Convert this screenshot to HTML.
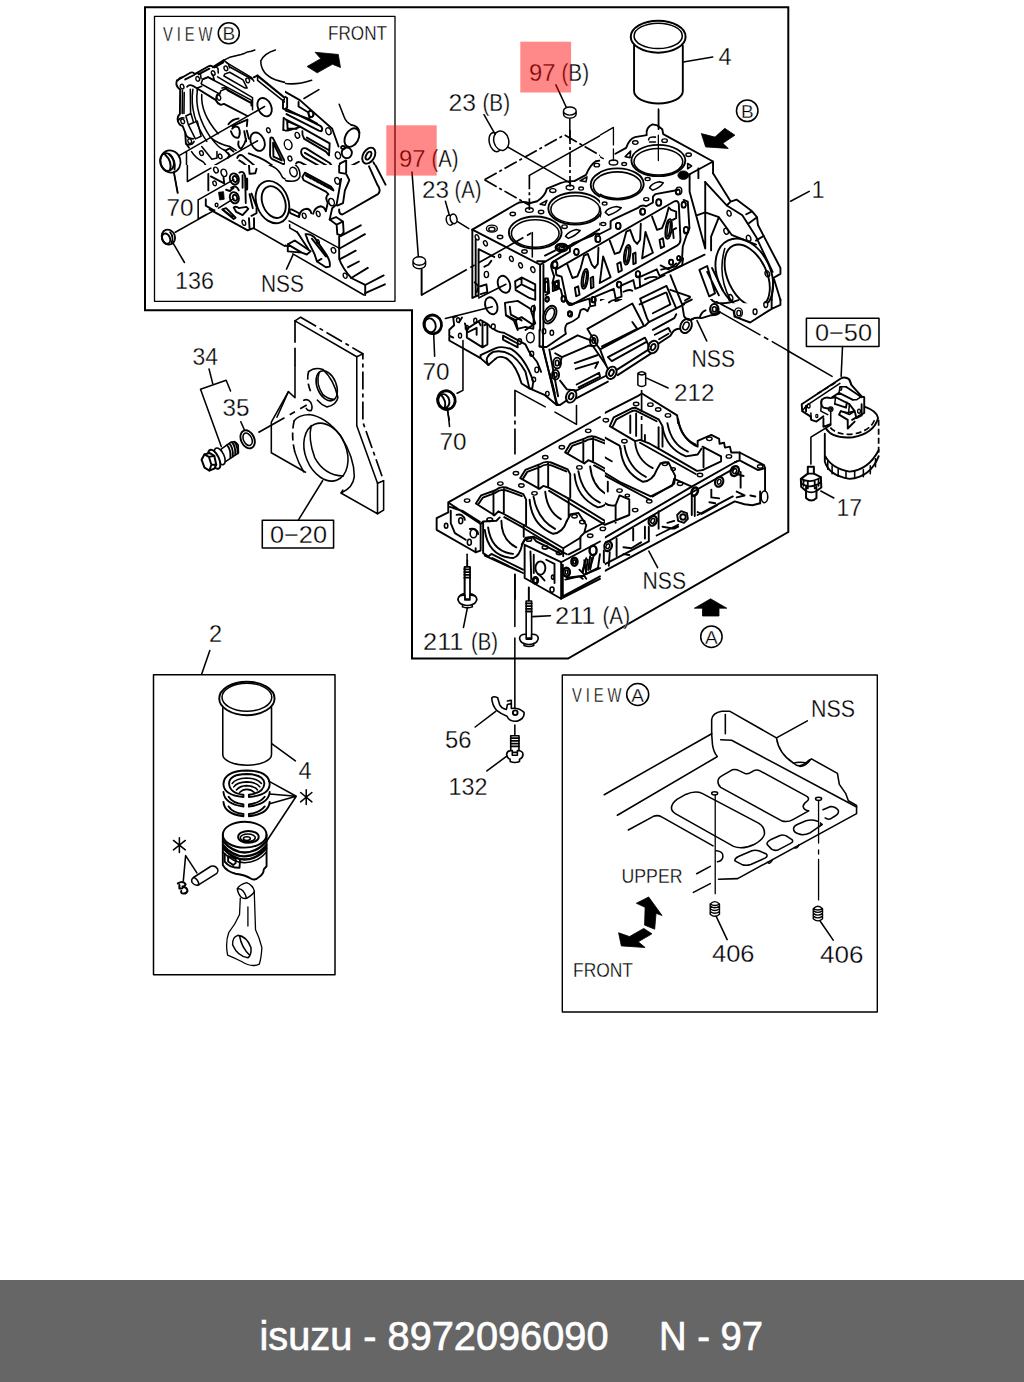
<!DOCTYPE html>
<html><head><meta charset="utf-8"><title>isuzu - 8972096090 N - 97</title>
<style>
html,body{margin:0;padding:0;background:#fff;}
body{width:1024px;height:1382px;overflow:hidden;position:relative;font-family:"Liberation Sans",sans-serif;}
svg{position:absolute;left:0;top:0;display:block;}
path,ellipse,circle,rect,line,polyline,polygon{vector-effect:non-scaling-stroke;}
.l{fill:none;stroke:#000;stroke-width:1.55;stroke-linejoin:round;stroke-linecap:round;}
.h{fill:none;stroke:#000;stroke-width:1.9;stroke-linejoin:round;stroke-linecap:round;}
.t{fill:none;stroke:#000;stroke-width:2;stroke-linejoin:miter;}
.w{fill:#fff;stroke:#000;stroke-width:1.55;stroke-linejoin:round;}
.k{fill:#000;stroke:#000;stroke-width:0.8;stroke-linejoin:round;}
.d{fill:none;stroke:#000;stroke-width:1.7;stroke-dasharray:13 3 3 3;}
text{font-family:"Liberation Sans",sans-serif;fill:#000;stroke:#fff;stroke-width:0.3px;}
.n{font-size:23.5px;}
.s{font-size:17px;letter-spacing:1.5px;}
</style></head><body>
<svg width="1024" height="1382" viewBox="0 0 1024 1382">
<g id="frames">
<rect x="0" y="1280" width="1024" height="102" fill="#666"/>
<text x="259.5" y="1350" font-size="40.5" style="fill:#fff;stroke:#fff;stroke-width:0.7px" textLength="349" lengthAdjust="spacingAndGlyphs">isuzu - 8972096090</text>
<text x="659" y="1350" font-size="40.5" style="fill:#fff;stroke:#fff;stroke-width:0.7px" textLength="104" lengthAdjust="spacingAndGlyphs">N - 97</text>
<path class="t" d="M145,7.2 H788.3 V532 L568,658.5 H412 V310.3 H145 Z"/>
<rect class="l" x="154.5" y="16.3" width="240.5" height="285" style="stroke-width:1.3"/>
<rect class="l" x="153.5" y="674.7" width="181.5" height="300" style="stroke-width:1.5"/>
<rect class="l" x="562.3" y="675" width="315" height="337" style="stroke-width:1.4"/>

</g>
<g id="viewb">
<defs><clipPath id="cQ1"><rect x="-200" y="-200" width="1106" height="1106"/></clipPath><clipPath id="cQ2"><rect x="118" y="-200" width="1200" height="1106"/></clipPath><clipPath id="cQ3"><rect x="-200" y="0" width="1500" height="1300"/></clipPath><clipPath id="cQ4"><rect x="118" y="0" width="1200" height="1300"/></clipPath></defs>
<!-- Q1 -->
<g transform="translate(170 50) scale(0.126953125)" clip-path="url(#cQ1)">
<path class="l" d="M425,80 L470,58 L520,45 L560,35 L590,25 L610,15 L640,10 L668,0"/>
<path class="l" d="M830,0 Q745,25 715,85 Q715,190 830,235 Q930,270 1024,262"/>
<path class="h" d="M55,240 L150,185 Q180,165 195,190 L300,130 Q325,115 338,135 L425,80 M120,232 L190,197 M225,192 L310,147 M350,137 L420,97"/>
<path class="h" d="M55,240 Q40,275 68,302 L80,312 L78,505 Q55,522 62,560 Q72,595 100,600 L120,650 L125,735 L150,770"/>
<path class="l" d="M112,335 L110,500 M160,310 L162,495"/>
<path class="h" d="M135,290 Q150,268 180,282 L362,395 Q375,425 400,432 L425,425 L610,520"/>
<path class="l" d="M245,265 L258,228 L300,212 L350,240 L335,190 M250,270 L392,348 L400,322 L440,305 L650,420 M375,212 L650,375 L650,470"/>
<path class="l" d="M430,190 L470,175 L575,235 L608,300 L592,300 L425,205 Z M445,100 L640,215 L660,245"/>
<path class="h" d="M660,215 L690,200 L915,385 L890,395 L890,460 L1024,540 M700,212 L920,392 L925,450 L1024,510"/>
<path class="l" d="M215,320 Q190,500 320,690 Q380,740 470,760 M250,350 Q240,500 380,660 M180,310 Q150,520 290,720 M330,700 Q380,770 430,790"/>
<path class="l" d="M125,520 L165,500 L185,570 L145,590 Z M145,590 L215,560 L245,680 L200,700 Z"/>
<g class="l" style="stroke-width:1.4">
<ellipse cx="95" cy="288" rx="14" ry="19" transform="rotate(-20 95 288)"/><ellipse cx="218" cy="228" rx="14" ry="19" transform="rotate(-20 218 228)"/>
<ellipse cx="340" cy="182" rx="14" ry="19" transform="rotate(-20 340 182)"/><ellipse cx="440" cy="145" rx="14" ry="19" transform="rotate(-20 440 145)"/>
<ellipse cx="612" cy="240" rx="14" ry="19" transform="rotate(-20 612 240)"/><ellipse cx="385" cy="375" rx="14" ry="21" transform="rotate(-20 385 375)"/>
<ellipse cx="100" cy="562" rx="14" ry="19" transform="rotate(-20 100 562)"/><ellipse cx="155" cy="718" rx="14" ry="19" transform="rotate(-20 155 718)"/>
<ellipse cx="248" cy="812" rx="14" ry="19" transform="rotate(-20 248 812)"/><ellipse cx="395" cy="838" rx="14" ry="19" transform="rotate(-20 395 838)"/>
<ellipse cx="358" cy="948" rx="14" ry="19" transform="rotate(-20 358 948)"/><ellipse cx="420" cy="965" rx="22" ry="28" transform="rotate(-20 420 965)"/>
<ellipse cx="775" cy="632" rx="14" ry="20" transform="rotate(-20 775 632)"/><ellipse cx="930" cy="745" rx="28" ry="38" transform="rotate(-20 930 745)"/>
<ellipse cx="945" cy="855" rx="14" ry="20" transform="rotate(-20 945 855)"/><ellipse cx="968" cy="965" rx="26" ry="34" transform="rotate(-20 968 965)"/>
<ellipse cx="1005" cy="672" rx="16" ry="22" transform="rotate(-20 1005 672)"/>
</g>
<ellipse class="h" cx="745" cy="450" rx="52" ry="76" transform="rotate(-25 745 450)"/>
<ellipse class="h" cx="690" cy="722" rx="52" ry="76" transform="rotate(-25 690 722)"/>
<path class="l" d="M75,830 L745,445 M130,805 L130,1024 M150,1024 L690,715" />
<path class="h" d="M460,585 Q490,545 540,540 M490,600 L610,548 L605,600 M480,640 Q500,700 540,690 Q560,650 540,610 Q510,590 490,620 M585,640 L600,720 M605,635 L622,700 M540,720 Q530,760 560,780 Q590,740 600,700 M440,790 L470,775 L500,800 M455,810 L470,830 L455,850"/>
<path class="h" d="M895,535 L892,630 L925,635 L1024,600 M920,555 L918,612 L1024,575 M895,535 L1024,590"/>
<path class="h" d="M790,700 Q790,685 810,692 L905,880 Q910,900 890,898 L805,860 Q788,850 788,830 Z M812,730 L880,870 L815,840 Z"/>
<path class="l" d="M170,800 Q200,850 260,880 Q280,900 290,925 M250,760 L330,860 L370,850 L370,800 M310,985 L310,1024 M310,985 L400,1024"/>
<path class="h" d="M530,850 Q540,820 570,830 L660,905 Q690,930 680,960 L685,1000 M545,870 Q600,900 625,940 Q640,980 640,1024 M620,815 L700,845 Q780,880 840,940 Q860,990 890,1024"/>
<path class="l" d="M490,1000 Q510,970 540,985 Q560,1000 555,1024 M560,975 Q590,950 610,980 L615,1024"/>
<path class="l" d="M98,315 L96,500 M62,240 Q70,215 100,212 M195,192 Q215,175 240,190 L245,225 M338,137 Q360,125 378,145 L380,180 M425,82 L460,110 L470,140 M465,130 L600,205 L645,228 M262,230 L300,215 L640,395 L640,440 M410,300 Q440,290 455,320 L640,420 M215,320 L215,300 L250,285 M365,400 Q355,350 390,340 M690,200 L690,240 L905,410 M470,760 L520,790 M430,790 L470,830 M62,560 Q75,530 110,535 M120,650 Q130,700 185,700 M125,740 Q170,760 190,720"/>
</g>
<!-- Q2 -->
<g transform="translate(270 50) scale(0.126953125)" clip-path="url(#cQ2)">
<path class="k" d="M292,130 L400,68 L355,18 L538,35 L555,138 L492,112 L372,180 Z"/>
<path class="l" d="M0,228 Q150,300 328,238 M268,382 L385,312 M545,428 L585,530 Q600,570 640,590"/>
<path class="h" d="M0,262 L235,395 L490,620 L540,760 M0,300 L135,378 L135,455 L105,470 L105,400 M105,470 L300,540 L370,580 M225,410 L225,445 L300,490 L310,530 M300,490 Q330,460 345,505 Q340,535 310,530"/>
<path class="h" d="M130,465 L400,600 Q420,620 405,640 L385,635 L130,505"/>
<path class="h" d="M100,535 L100,635 L140,635 L135,560 L240,605 M100,535 L240,605 L140,635 M140,620 L210,620" />
<path class="h" d="M240,605 L470,735 L465,830 L440,800 L270,700 Q250,670 255,640 M290,690 L465,790"/>
<path class="h" d="M245,800 Q250,765 285,775 L470,890 Q495,915 490,960 L470,960 L275,850 Q245,830 245,800 Z M275,810 L480,930"/>
<path class="h" d="M205,895 Q215,875 240,885 L500,1024 M230,930 L260,940 L380,1024 M270,960 L300,1024"/>
<g class="l" style="stroke-width:1.4">
<ellipse cx="322" cy="503" rx="17" ry="24" transform="rotate(-20 322 503)"/><ellipse cx="460" cy="640" rx="20" ry="28" transform="rotate(-20 460 640)"/>
<ellipse cx="215" cy="672" rx="17" ry="24" transform="rotate(-20 215 672)"/><ellipse cx="142" cy="745" rx="30" ry="40" transform="rotate(-20 142 745)"/>
<ellipse cx="157" cy="855" rx="15" ry="20" transform="rotate(-20 157 855)"/><ellipse cx="185" cy="965" rx="26" ry="36" transform="rotate(-20 185 965)"/>
<ellipse cx="535" cy="830" rx="20" ry="28" transform="rotate(-20 535 830)"/>
</g>
<path class="h" d="M0,690 L110,890 Q115,910 90,905 L0,865 M30,740 L90,880 L0,840"/>
<path class="h" d="M0,900 Q60,930 75,980 L100,1024"/>
<!-- plug -->
<ellipse class="h" cx="645" cy="690" rx="52" ry="78" transform="rotate(28 645 690)"/>
<path class="h" d="M640,590 Q700,600 705,650 M590,760 Q560,750 560,770 Q570,790 590,775"/>
<ellipse class="h" cx="605" cy="810" rx="40" ry="42"/>
<path class="h" d="M550,895 L600,870 L600,960 L550,985 Z M615,925 L700,880"/>
<ellipse class="h" cx="778" cy="832" rx="45" ry="68" transform="rotate(30 778 832)"/>
<ellipse class="h" cx="776" cy="832" rx="18" ry="34" transform="rotate(30 776 832)"/>
<path class="h" d="M780,915 L830,1024 M815,885 L890,1024"/>
</g>
<!-- Q3 -->
<g transform="translate(155 165) scale(0.126953125)" clip-path="url(#cQ3)">
<path class="l" d="M150,60 L180,220 M255,0 L255,130 L440,25 M340,275 L340,425 L405,390 M340,275 L620,115 M160,530 L470,355 M500,340 L620,265 M145,620 L232,768"/>
<ellipse class="w" cx="105" cy="568" rx="52" ry="60" transform="rotate(-20 105 568)" style="stroke-width:1.8"/>
<ellipse class="h" cx="88" cy="580" rx="30" ry="42" transform="rotate(-20 88 580)"/>
<path class="h" d="M120,530 Q150,570 130,615"/>
<path class="h" d="M420,70 L420,200 M440,90 L545,145 L540,100 M400,270 L400,320 L460,355 M430,350 L730,515 L780,495 L780,420 M740,420 L745,500 M760,400 L800,380 L800,340"/>
<ellipse class="h" cx="625" cy="110" rx="35" ry="45" transform="rotate(-20 625 110)"/><ellipse class="h" cx="630" cy="110" rx="17" ry="24" transform="rotate(-20 630 110)"/>
<ellipse class="h" cx="625" cy="258" rx="35" ry="45" transform="rotate(-20 625 258)"/><ellipse class="h" cx="630" cy="258" rx="17" ry="24" transform="rotate(-20 630 258)"/>
<g class="l" style="stroke-width:1.4"><ellipse cx="470" cy="145" rx="13" ry="19" transform="rotate(-20 470 145)"/><ellipse cx="480" cy="40" rx="17" ry="24" transform="rotate(-20 480 40)"/><ellipse cx="543" cy="62" rx="22" ry="30" transform="rotate(-20 543 62)"/><ellipse cx="485" cy="315" rx="11" ry="14"/><ellipse cx="700" cy="455" rx="13" ry="21" transform="rotate(-20 700 455)"/></g>
<path class="h" d="M665,60 Q700,40 710,90 L715,300 M690,80 L690,180 M740,0 L745,70 L790,65 L800,30 M745,230 L770,340 M760,225 L800,330"/>
<path class="h" d="M722,110 L722,190" style="stroke-width:3"/>
<path class="h" d="M600,180 Q640,150 660,200 M560,195 L590,205 L620,180 M620,335 Q640,320 660,340 L720,330 L735,345 L690,395 L640,370 Z M530,350 L560,340 L635,415 L620,425 Z M545,360 L610,410"/>
<path class="k" d="M500,215 L540,210 L545,270 L510,275 Z"/>
<ellipse class="h" cx="925" cy="292" rx="125" ry="172" transform="rotate(-22 925 292)"/>
<ellipse class="h" cx="935" cy="292" rx="88" ry="130" transform="rotate(-22 935 292)"/>
<path class="l" d="M780,500 L1024,640 M900,0 Q960,20 990,70 Q1000,100 1024,110"/>
</g>
<!-- Q4 -->
<g transform="translate(270 165) scale(0.126953125)" clip-path="url(#cQ4)">
<path class="h" d="M150,350 L170,350 L230,380 L230,410 L160,380 Z M230,400 Q240,350 290,345 Q320,350 325,380 M340,385 Q350,335 400,325 Q430,330 440,365 Q450,320 455,300"/>
<g class="l" style="stroke-width:1.4"><ellipse cx="270" cy="400" rx="14" ry="22" transform="rotate(-20 270 400)"/><ellipse cx="380" cy="385" rx="14" ry="22" transform="rotate(-20 380 385)"/><ellipse cx="185" cy="55" rx="28" ry="38" transform="rotate(-20 185 55)"/><ellipse cx="530" cy="125" rx="19" ry="27" transform="rotate(-20 530 125)"/><ellipse cx="485" cy="292" rx="21" ry="30" transform="rotate(-20 485 292)"/><ellipse cx="500" cy="672" rx="17" ry="23" transform="rotate(-20 500 672)"/><ellipse cx="592" cy="872" rx="15" ry="21" transform="rotate(-20 592 872)"/><ellipse cx="378" cy="605" rx="10" ry="16" transform="rotate(-20 378 605)"/></g>
<path class="h" d="M455,300 Q430,250 460,230 L440,210 L265,120 L255,95 L275,60 L480,170 L500,200"/>
<path class="h" d="M285,82 L490,192" style="stroke-width:2.6;stroke-dasharray:2 2"/>
<path class="l" d="M60,40 Q90,110 130,125 Q220,140 235,90 Q240,30 200,0 M0,30 Q40,30 60,40"/>
<path class="h" d="M545,0 L545,60 L600,70 L625,120 L590,200 L575,300 L530,320 M600,0 L600,60 M560,110 L525,310 L490,340 L470,430"/>
<path class="h" d="M470,430 L520,410 L575,445 L580,530 L560,555 L530,545 L525,470 Z M525,470 L575,445"/>
<path class="h" d="M780,10 L845,155 M830,0 L910,155 M845,155 Q880,200 850,230 L570,390 Q540,385 545,350"/>
<path class="h" d="M555,560 L715,475 M545,660 L748,545 M555,740 L675,675 M615,805 L700,760 M640,890 L770,810 M750,945 L895,870 M750,1010 L905,940"/>
<path class="h" d="M545,560 L545,740 Q570,810 640,890 L750,945 L750,1024"/>
<path class="l" d="M150,440 L545,655 M155,470 L155,495 L215,530 M0,570 L135,640 M180,700 L740,1024 M180,710 L130,820"/>
<path class="h" d="M140,625 L195,595 L320,680 L290,705 L250,690 L140,680 Z M140,625 L250,690"/>
<path class="h" d="M215,530 L300,660 M280,545 Q320,540 350,570 L440,700 Q480,760 470,800 L440,805 L370,760 L350,700 L300,600 Z M330,580 L440,720 M370,760 L405,740"/>
</g>
<!-- seal 70 top -->
<g transform="translate(150 14) scale(0.25)">
<ellipse class="w" cx="82" cy="590" rx="40" ry="45" transform="rotate(-15 82 590)" style="stroke-width:1.8"/>
<ellipse class="h" cx="68" cy="592" rx="27" ry="36" transform="rotate(-15 68 592)"/>
<path class="h" d="M60,562 Q90,590 80,625 M75,560 Q105,585 98,622"/>
<path class="l" d="M95,632 L110,715"/>
</g>

</g>
<g id="block">
<defs><clipPath id="cB1"><rect x="-300" y="-300" width="1222" height="1400"/></clipPath><clipPath id="cB2"><rect x="51" y="-300" width="1200" height="1340"/></clipPath><clipPath id="cB3"><rect x="-300" y="0" width="1222" height="1400"/></clipPath><clipPath id="cB4"><rect x="51" y="200" width="1200" height="1340"/></clipPath></defs>
<!-- B1 -->
<g transform="translate(420 130) scale(0.1953125)" clip-path="url(#cB1)">
<path class="d" d="M330,255 L740,25 L940,140 M330,255 L560,385 M560,232 L560,410 M768,0 L768,290 M985,0 L985,155" style="stroke-dasharray:14 3 3 3"/>
<path class="d" d="M8,845 L575,525" style="stroke-dasharray:52 4 5 4"/>
<path class="l" d="M560,232 L960,8 M8,700 L8,845 M575,525 L575,650 M420,70 L770,272"/>
<ellipse class="w" cx="385" cy="62" rx="30" ry="50" transform="rotate(-15 385 62)" style="stroke-width:1.5"/>
<ellipse class="w" cx="416" cy="55" rx="38" ry="50" transform="rotate(-15 416 55)" style="stroke-width:1.5"/>
<ellipse class="w" cx="152" cy="462" rx="17" ry="26" transform="rotate(-15 152 462)" style="stroke-width:1.5"/>
<ellipse class="w" cx="172" cy="455" rx="17" ry="25" transform="rotate(-15 172 455)" style="stroke-width:1.5"/>
<path class="l" d="M130,365 L150,435 M190,468 L250,505"/>
<!-- top face -->
<path class="h" d="M268,510 L490,380 Q520,360 560,375 L600,365 Q640,340 650,300 L700,280 Q740,260 790,262 L850,230 Q870,180 900,160 L960,150 L1024,120"/>
<path class="h" d="M268,510 L615,690 L1024,445 M600,672 L640,672"/>
<ellipse class="h" cx="590" cy="525" rx="135" ry="82"/><ellipse class="l" cx="590" cy="530" rx="122" ry="70"/>
<ellipse class="h" cx="795" cy="402" rx="138" ry="82"/><ellipse class="l" cx="795" cy="407" rx="125" ry="70"/>
<ellipse class="h" cx="1012" cy="280" rx="138" ry="82"/><ellipse class="l" cx="1012" cy="285" rx="125" ry="70"/>
<g class="l" style="stroke-width:1.4">
<ellipse cx="368" cy="505" rx="28" ry="18"/><ellipse cx="368" cy="508" rx="16" ry="10"/><ellipse cx="475" cy="430" rx="14" ry="9"/><ellipse cx="560" cy="410" rx="20" ry="12"/><ellipse cx="620" cy="420" rx="14" ry="9"/><ellipse cx="680" cy="310" rx="16" ry="10"/><ellipse cx="768" cy="295" rx="20" ry="12"/><ellipse cx="825" cy="300" rx="12" ry="8"/><ellipse cx="905" cy="180" rx="14" ry="9"/><ellipse cx="985" cy="165" rx="20" ry="12"/><ellipse cx="410" cy="548" rx="14" ry="9"/><ellipse cx="535" cy="622" rx="14" ry="9"/><ellipse cx="740" cy="495" rx="14" ry="9"/><ellipse cx="940" cy="380" rx="12" ry="8"/><ellipse cx="935" cy="482" rx="14" ry="9"/>
<ellipse cx="292" cy="550" rx="9" ry="14" transform="rotate(-25 292 550)"/><ellipse cx="335" cy="580" rx="9" ry="14" transform="rotate(-25 335 580)"/><ellipse cx="408" cy="645" rx="6" ry="9"/><ellipse cx="468" cy="660" rx="9" ry="14" transform="rotate(-25 468 660)"/><ellipse cx="515" cy="693" rx="9" ry="14" transform="rotate(-25 515 693)"/><ellipse cx="578" cy="715" rx="10" ry="15" transform="rotate(-25 578 715)"/><ellipse cx="340" cy="740" rx="11" ry="16"/><ellipse cx="580" cy="915" rx="10" ry="15"/>
<ellipse cx="690" cy="690" rx="15" ry="20"/><ellipse cx="800" cy="625" rx="12" ry="16"/><ellipse cx="910" cy="555" rx="14" ry="20"/><ellipse cx="1010" cy="495" rx="14" ry="20"/><ellipse cx="652" cy="865" rx="9" ry="13"/><ellipse cx="735" cy="865" rx="10" ry="14"/><ellipse cx="765" cy="940" rx="9" ry="14"/><ellipse cx="890" cy="870" rx="10" ry="14"/>
</g>
<path class="l" d="M615,380 L650,360 L640,385 Z M820,260 L855,240 L850,265 Z M745,545 Q760,520 800,510 L820,515 Q800,540 760,555 Z M950,425 Q960,405 1000,392 L1020,398 Q1000,420 965,438 Z"/>
<ellipse class="h" cx="725" cy="602" rx="28" ry="17" style="stroke-width:3.2"/><ellipse class="l" cx="725" cy="604" rx="14" ry="8"/>
<!-- left face -->
<path class="h" d="M268,510 L268,860 L300,845 M285,560 L285,850 M300,610 L300,850 M300,610 L380,650 M330,700 L350,690 L365,670"/>
<ellipse class="h" cx="430" cy="790" rx="30" ry="45" transform="rotate(-20 430 790)"/><path class="l" d="M300,860 L440,790 M130,965 L370,905"/>
<ellipse class="h" cx="365" cy="900" rx="30" ry="45" transform="rotate(-20 365 900)"/>
<path class="h" d="M487,775 L520,755 L590,790 L590,870 L560,860 L490,820 Z M520,790 L590,825 M520,755 L520,790 L490,810"/>
<path class="h" d="M435,885 L500,875 L565,915 L590,990 L540,1024 M435,885 L440,950 L480,975 L500,1024 M460,905 L465,945 L520,975"/>
<path class="h" d="M280,780 L300,800 L290,830 M310,800 L340,790 L345,830 L310,840 M200,985 L215,960 M230,990 L240,1024 M280,990 Q300,970 310,1000 M330,1000 Q350,985 360,1010"/>
<ellipse class="h" cx="65" cy="995" rx="45" ry="48" transform="rotate(-15 65 995)" style="stroke-width:2.8"/><ellipse class="h" cx="52" cy="1000" rx="28" ry="36" transform="rotate(-15 52 1000)"/>
<!-- front edge -->
<path class="h" d="M615,690 L615,1024 M632,690 L632,1024"/>
<ellipse class="h" cx="665" cy="945" rx="30" ry="48" transform="rotate(25 665 945)"/><ellipse class="l" cx="665" cy="945" rx="20" ry="36" transform="rotate(25 665 945)"/>
<path class="h" d="M640,760 L640,830 L655,830 L655,760 Z M680,780 L710,770 L705,815 L680,825 Z"/>
</g>
<!-- B2 -->
<g transform="translate(590 100) scale(0.1953125)" clip-path="url(#cB2)">
<circle class="l" cx="805" cy="55" r="55"/>
<path class="k" d="M570,172 L640,190 L690,145 L742,180 L680,222 L708,248 L592,240 Z"/>
<path class="l" d="M350,45 L350,150 M350,180 L350,310 M120,140 L120,230 M120,250 L120,310 M0,210 L120,140 M0,262 L68,300" style="stroke-width:1.3"/>
<ellipse class="h" cx="350" cy="310" rx="138" ry="80"/><ellipse class="l" cx="350" cy="316" rx="125" ry="68"/>
<path class="h" d="M130,275 L185,245 Q200,200 230,190 L290,180 Q285,140 320,125 L345,130 L370,150 L375,175 L630,315 L630,375 M630,315 L510,380"/>
<g class="l" style="stroke-width:1.4">
<ellipse cx="232" cy="218" rx="14" ry="9"/><ellipse cx="382" cy="208" rx="14" ry="9"/><ellipse cx="505" cy="280" rx="14" ry="9"/><ellipse cx="175" cy="328" rx="12" ry="8"/><ellipse cx="120" cy="320" rx="22" ry="13"/><ellipse cx="35" cy="332" rx="14" ry="9"/><ellipse cx="295" cy="405" rx="13" ry="8"/><ellipse cx="288" cy="508" rx="13" ry="8"/><ellipse cx="75" cy="530" rx="12" ry="8"/><ellipse cx="68" cy="635" rx="13" ry="8"/>
<ellipse cx="455" cy="465" rx="15" ry="19"/><ellipse cx="352" cy="525" rx="14" ry="18"/><ellipse cx="268" cy="572" rx="13" ry="17"/><ellipse cx="145" cy="645" rx="13" ry="17"/><ellipse cx="40" cy="715" rx="13" ry="17"/><ellipse cx="480" cy="535" rx="11" ry="15"/><ellipse cx="492" cy="668" rx="13" ry="17"/><ellipse cx="415" cy="830" rx="11" ry="14"/><ellipse cx="455" cy="810" rx="9" ry="12"/><ellipse cx="245" cy="893" rx="12" ry="16"/><ellipse cx="148" cy="945" rx="12" ry="16"/><ellipse cx="10" cy="1010" rx="10" ry="13"/>
<ellipse cx="712" cy="580" rx="10" ry="15" transform="rotate(-20 712 580)"/><ellipse cx="697" cy="672" rx="11" ry="16" transform="rotate(-20 697 672)"/><ellipse cx="812" cy="708" rx="11" ry="16" transform="rotate(-20 812 708)"/><ellipse cx="908" cy="890" rx="11" ry="16" transform="rotate(-20 908 890)"/><ellipse cx="720" cy="1012" rx="11" ry="16" transform="rotate(-20 720 1012)"/>
</g>
<path class="l" d="M180,290 L208,262 L205,295 Z M500,325 L520,338 L500,352 Z M300,205 Q300,185 335,190 M305,215 L335,215"/>
<path class="l" d="M305,450 Q315,425 355,418 L375,424 Q360,448 320,462 Z M78,575 Q90,552 135,545 L160,552 Q140,575 95,590 Z"/>
<ellipse class="k" cx="478" cy="385" rx="28" ry="22"/>
<ellipse class="h" cx="140" cy="430" rx="135" ry="80"/><ellipse class="l" cx="140" cy="436" rx="122" ry="68"/>
<path class="h" d="M0,470 Q50,520 55,580 Q50,620 0,640 M0,485 Q38,530 40,580 Q35,610 0,625"/>
<!-- rear face -->
<path class="h" d="M630,375 L720,520 L750,510 L830,570 L855,600 L860,640 L975,860 L975,890 L940,910 L930,1024 M590,420 L700,540 L780,590 L850,700 L935,880 M720,520 L700,540 M800,585 L830,570 M815,630 L855,600 M850,720 L890,695 M940,910 L975,1024"/>
<ellipse class="h" cx="790" cy="895" rx="135" ry="195" transform="rotate(-25 790 895)"/>
<ellipse class="h" cx="805" cy="900" rx="100" ry="170" transform="rotate(-25 805 900)"/>
<path class="l" d="M690,760 Q650,900 720,1024"/>
<path class="h" d="M555,350 L555,400 M510,380 L510,470 L590,760 M590,420 L590,760 M590,575 L660,600 L620,700 L620,770 M590,575 L550,590 M660,600 L725,690 L850,740"/>
<path class="h" d="M560,870 L600,850 L640,990 L610,1005 Z M600,880 L660,1000 M625,860 L680,975"/>
</g>
<!-- B3 -->
<g transform="translate(420 280) scale(0.1953125)" clip-path="url(#cB3)">
<path class="l" d="M70,275 L75,390 M220,310 L220,565 L190,580 M140,665 L150,717"/>
<ellipse class="w" cx="135" cy="615" rx="45" ry="48" transform="rotate(-15 135 615)" style="stroke-width:2.8"/><ellipse class="h" cx="122" cy="620" rx="28" ry="36" transform="rotate(-15 122 620)"/>
<path class="h" d="M105,585 Q140,620 125,660"/>
<path class="h" d="M150,255 L175,232 L170,192 L188,185 M150,255 L150,310 L310,400 L350,435 L385,405 M150,285 L170,295"/>
<path class="h" d="M350,435 Q325,395 375,368 Q470,345 540,470 L560,555 L575,555 L580,520 Q540,400 470,355 Q420,335 385,350 L310,385 L310,400 M385,405 Q400,385 440,400 Q490,430 520,530 L560,555"/>
<path class="h" d="M240,295 L240,250 L310,205 L345,225 L345,330 L320,345 Z M320,215 L320,345 M240,270 L290,245 L290,280"/>
<g class="l" style="stroke-width:1.4"><ellipse cx="195" cy="205" rx="8" ry="12"/><ellipse cx="240" cy="245" rx="8" ry="12"/><ellipse cx="205" cy="285" rx="8" ry="12"/><ellipse cx="283" cy="208" rx="8" ry="12"/><ellipse cx="375" cy="238" rx="10" ry="13"/><ellipse cx="510" cy="315" rx="10" ry="14"/><ellipse cx="572" cy="378" rx="10" ry="13"/><ellipse cx="598" cy="460" rx="10" ry="14"/><ellipse cx="583" cy="510" rx="9" ry="12"/><ellipse cx="652" cy="582" rx="9" ry="12"/><ellipse cx="565" cy="295" rx="20" ry="26"/>
<ellipse cx="650" cy="100" rx="9" ry="12"/><ellipse cx="735" cy="98" rx="10" ry="14"/><ellipse cx="770" cy="175" rx="10" ry="14"/><ellipse cx="635" cy="262" rx="9" ry="13"/><ellipse cx="675" cy="270" rx="9" ry="13"/><ellipse cx="890" cy="100" rx="10" ry="14"/>
</g>
<path class="h" d="M425,285 L500,325 L500,345 L425,305 Z M375,250 Q400,270 430,270 L540,330 L560,370 L600,420 L620,470 M560,555 L640,590 L700,640"/>
<path class="h" d="M440,180 L490,205 L500,250 L540,240 L580,250 L585,130 M490,205 L520,190 L580,230"/>
<path class="h" d="M612,256 L612,340 L630,345 M630,256 L630,345 L700,640 L710,640 M665,480 L690,580"/>
</g>
<!-- B4 -->
<g transform="translate(590 260) scale(0.1953125)" clip-path="url(#cB4)">
<path class="h" d="M0,195 L230,95 M0,230 L120,175 L130,210 L160,200 L150,150 L230,120 L245,150 L340,100 L350,60"/>
<path class="h" d="M620,200 Q650,240 760,205 M740,290 L735,260 L650,215 M975,200 L975,230 L930,250 L820,320 L740,290 M930,200 L930,250"/>
<g class="l" style="stroke-width:1.4"><ellipse cx="720" cy="195" rx="10" ry="14"/><ellipse cx="900" cy="228" rx="10" ry="15"/><ellipse cx="845" cy="265" rx="10" ry="14"/><ellipse cx="760" cy="270" rx="20" ry="25"/><ellipse cx="762" cy="272" rx="10" ry="14"/><ellipse cx="635" cy="250" rx="18" ry="24"/></g>
<path class="l" d="M548,310 L598,415 M290,605 L400,655"/>
<path class="d" d="M650,258 L1024,470" style="stroke-dasharray:50 4 5 4;stroke-width:1.5"/>
<path class="w" d="M245,580 Q265,565 285,580 L285,640 Q265,655 245,640 Z M245,582 Q265,595 285,582" style="stroke-width:1.5"/>
</g>
<!-- B5 -->
<g transform="translate(520 240) scale(0.1953125)">
<path class="h" d="M115,545 L190,840 L205,845 L240,820 M100,545 L135,548 M150,560 L195,800"/>
<ellipse class="h" cx="190" cy="630" rx="20" ry="28"/><ellipse class="l" cx="190" cy="630" rx="9" ry="14"/>
<ellipse class="h" cx="182" cy="690" rx="18" ry="25"/><ellipse class="l" cx="182" cy="690" rx="8" ry="12"/>
<ellipse class="h" cx="262" cy="800" rx="25" ry="34" transform="rotate(25 262 800)"/><ellipse class="h" cx="262" cy="800" rx="11" ry="17" transform="rotate(25 262 800)"/>
<ellipse class="h" cx="468" cy="680" rx="25" ry="33" transform="rotate(25 468 680)"/><ellipse class="h" cx="468" cy="680" rx="11" ry="17" transform="rotate(25 468 680)"/>
<ellipse class="h" cx="682" cy="548" rx="25" ry="33" transform="rotate(25 682 548)"/><ellipse class="h" cx="682" cy="548" rx="11" ry="17" transform="rotate(25 682 548)"/>
<ellipse class="h" cx="850" cy="440" rx="28" ry="38" transform="rotate(25 850 440)"/><ellipse class="l" cx="850" cy="440" rx="14" ry="21" transform="rotate(25 850 440)"/>
<ellipse class="h" cx="378" cy="515" rx="20" ry="28"/><ellipse class="l" cx="378" cy="515" rx="9" ry="14"/>
<path class="h" d="M280,775 L440,695 M290,810 L450,725 M495,665 L660,560 M500,692 L670,582 M710,530 L770,490 Q790,450 820,455 M712,508 L760,480"/>
<path class="h" d="M160,560 L295,488 L365,515 M180,580 L215,600 L355,540 L375,545 M215,600 L200,640 M205,720 L240,765 L285,770 M280,630 L395,590 M285,660 L400,625 L385,655 M290,740 L405,680 L410,700 L300,755 M375,545 L440,640 L450,660"/>
<path class="h" d="M345,455 L575,325 L635,440 L410,560 L395,540 M345,455 L395,540 M420,545 L600,455 L575,420 M410,560 L440,640 M450,600 L640,500 L650,520 L470,620 Z M650,520 L660,545"/>
<path class="h" d="M615,300 L750,235 L800,350 L660,420 L650,400 M615,300 L650,400 M660,420 L640,440 M750,270 L770,330 L680,375"/>
<path class="h" d="M770,180 L830,330 L880,305 M830,330 L840,390 Q860,420 885,405 M845,310 L870,295 M680,460 L790,400 L800,380 M690,485 L760,450 L770,470"/>
<path class="h" d="M920,400 Q925,370 950,360 M880,405 Q900,395 930,400 L980,385 Q1010,385 1024,370"/>
<ellipse class="h" cx="995" cy="355" rx="22" ry="28"/><ellipse class="l" cx="995" cy="355" rx="10" ry="13"/>
<!-- panel lower rail -->
<path class="h" d="M240,310 Q250,330 275,325 L355,300 L360,340 L385,335 L385,290 L480,250 L490,300 L520,290 L515,235 L580,205 L590,250 L615,240 L612,190 L700,150 L715,185 L830,130 L835,95"/>
<path class="h" d="M300,395 L310,360 Q330,345 345,365 L355,345 M295,400 Q270,420 240,430 Q225,450 235,480 L140,545 M455,320 Q480,300 500,310 M530,265 Q560,250 575,260 M640,200 Q670,185 700,190"/>
<path class="h" d="M615,240 L740,180 M760,165 L945,75 M720,130 L760,150 L800,120 M612,330 L745,270 M770,255 L870,290 M800,350 L840,330"/>
</g>
<!-- B6 cover -->
<g transform="translate(545 190) scale(0.166015625)">
<path class="h" d="M65,480 L780,68 Q802,60 806,85 L816,300 Q816,322 795,335 L165,690 Q140,702 132,675 L100,522 L68,512 Z"/>
<path class="h" d="M40,475 Q28,440 60,425 L150,372 L150,335 L168,322 L285,275 Q300,255 330,265 L395,232 L395,188 L415,175 L560,108 Q580,85 610,98 L650,75 L650,40 L665,25 L800,0 M40,475 L55,520 L45,560 L95,600 L105,640"/>
<path class="h" d="M835,60 L860,70 L870,230 L850,280 L830,340 L825,420 L790,460 L700,480"/>
<g class="h" style="stroke-width:1.6"><ellipse cx="60" cy="450" rx="14" ry="18"/><ellipse cx="190" cy="372" rx="14" ry="18"/><ellipse cx="320" cy="295" rx="14" ry="18"/><ellipse cx="440" cy="215" rx="14" ry="18"/><ellipse cx="590" cy="130" rx="14" ry="18"/><ellipse cx="685" cy="75" rx="14" ry="18"/><ellipse cx="835" cy="90" rx="13" ry="17"/><ellipse cx="850" cy="240" rx="14" ry="18"/><ellipse cx="110" cy="655" rx="12" ry="16"/><ellipse cx="290" cy="660" rx="13" ry="17"/><ellipse cx="448" cy="570" rx="13" ry="17"/><ellipse cx="560" cy="505" rx="13" ry="17"/><ellipse cx="760" cy="435" rx="12" ry="15"/><ellipse cx="805" cy="410" rx="9" ry="12"/><ellipse cx="800" cy="12" rx="13" ry="16"/><ellipse cx="150" cy="745" rx="10" ry="15" transform="rotate(25 150 745)"/><ellipse cx="70" cy="570" rx="12" ry="18" transform="rotate(25 70 570)"/><ellipse cx="12" cy="660" rx="9" ry="13"/></g>
<path class="h" d="M135,450 L165,530 L195,520 L215,470 L235,395 L258,385 L282,450 L300,470 L318,445 L322,348 M390,305 L420,385 L450,375 L470,325 L490,250 L513,240 L537,305 L555,325 L573,300 L577,203 M645,160 L675,240 L705,230 L725,180 L745,105 L760,120 L790,130 L790,170 L770,180 M790,230 L770,240 L775,290"/>
<ellipse class="h" cx="240" cy="535" rx="18" ry="60" transform="rotate(8 240 535)"/><ellipse class="l" cx="240" cy="535" rx="8" ry="47" transform="rotate(8 240 535)"/>
<ellipse class="h" cx="495" cy="390" rx="18" ry="60" transform="rotate(8 495 390)"/><ellipse class="l" cx="495" cy="390" rx="8" ry="47" transform="rotate(8 495 390)"/>
<ellipse class="h" cx="745" cy="235" rx="18" ry="60" transform="rotate(8 745 235)"/><ellipse class="l" cx="745" cy="235" rx="8" ry="47" transform="rotate(8 745 235)"/>
<path class="h" d="M180,590 L200,580 L208,630 L188,640 Z M435,445 L455,435 L463,485 L443,495 Z M690,300 L710,290 L718,340 L698,350 Z M275,530 L290,522 L292,585 L277,592 Z M530,385 L545,377 L547,440 L532,447 Z M330,560 L350,400 L395,525 Z M585,412 L605,252 L650,378 Z"/>
<path class="h" d="M0,395 L60,365 M100,345 L150,335 M0,560 L20,545 L25,620 L5,632 M55,560 L80,548 L85,590 L60,603 Z"/>
</g>
<!-- liner + pellets -->
<g transform="translate(500 10) scale(0.25390625)">
<ellipse class="h" cx="623" cy="105" rx="108" ry="63" style="stroke-width:2"/>
<ellipse class="l" cx="623" cy="102" rx="95" ry="50"/>
<path class="h" d="M528,140 L528,320 A96,48 0 0 0 720,320 L720,140"/>
<path class="l" d="M722,205 L838,185 M625,392 L625,470 M220,295 L262,385 M275,425 L275,512"/>
<path class="w" d="M250,398 A25,16 0 0 1 300,398 L300,410 A25,16 0 0 1 250,410 Z M250,398 A25,16 0 0 0 300,398" style="stroke-width:1.4"/>
</g>
<path class="w" d="M413,261 A6.3,4.2 0 0 1 425.6,261 L425.6,264.5 A6.3,4.2 0 0 1 413,264.5 Z M413,261 A6.3,4.2 0 0 0 425.6,261" style="stroke-width:1.4"/>
<path class="l" d="M412,172 L418.3,256 M421.6,269.5 L421.6,295 M484,114.7 L495.2,134.3 M790.6,201.2 L809.2,191.4"/>

</g>
<g id="lower">
<defs><clipPath id="cL1"><rect x="-300" y="-100" width="1196" height="1400"/></clipPath><clipPath id="cL2"><rect x="25" y="-100" width="1300" height="1400"/></clipPath></defs>
<!-- L1 -->
<g transform="translate(430 400) scale(0.1953125)" clip-path="url(#cL1)">
<path class="d" d="M435,-49 L435,300 M435,890 L435,1024" style="stroke-dasharray:26 4 4 4"/>
<path class="l" d="M435,-49 L590,35 M640,62 L750,125 L750,28 M90,45 L100,135 M505,960 L505,1024"/>
<g class="l" style="stroke-width:1.4">
<ellipse cx="190" cy="515" rx="14" ry="9"/><ellipse cx="360" cy="428" rx="14" ry="9"/><ellipse cx="440" cy="375" rx="14" ry="9"/><ellipse cx="468" cy="438" rx="14" ry="9"/><ellipse cx="535" cy="478" rx="14" ry="9"/><ellipse cx="590" cy="293" rx="14" ry="9"/><ellipse cx="675" cy="242" rx="14" ry="9"/><ellipse cx="765" cy="345" rx="14" ry="9"/><ellipse cx="810" cy="158" rx="14" ry="9"/><ellipse cx="900" cy="103" rx="14" ry="9"/><ellipse cx="992" cy="213" rx="14" ry="9"/><ellipse cx="970" cy="462" rx="14" ry="9"/><ellipse cx="1010" cy="490" rx="14" ry="9"/><ellipse cx="740" cy="595" rx="14" ry="9"/><ellipse cx="780" cy="625" rx="14" ry="9"/><ellipse cx="820" cy="695" rx="14" ry="9"/><ellipse cx="885" cy="660" rx="14" ry="9"/>
</g>
<!-- windows -->
<path class="h" d="M235,530 L262,488 L335,462 Q360,440 390,448 L478,482 L492,510 L492,640 M235,530 L330,590 L350,570 L380,585 L480,640 M250,530 L270,500 L335,475 Q360,455 388,462 L470,492 M325,470 L325,590 M378,455 L378,580"/>
<path class="h" d="M462,400 L488,358 L560,330 Q590,310 620,320 L705,355 L718,380 L718,500 M462,400 L560,455 L580,440 L610,450 L710,505 M478,400 L498,368 L562,344 Q590,325 618,334 L698,366 M555,335 L555,455 M605,325 L605,445"/>
<path class="h" d="M692,268 L718,225 L790,198 Q815,180 845,188 L935,225 L948,250 L948,370 M692,268 L790,325 L810,308 L840,320 L940,375 M708,268 L728,235 L792,212 Q815,195 843,202 L928,236 M785,205 L785,320 M835,195 L835,310"/>
<path class="h" d="M920,135 L945,92 L1024,62 M920,135 L1024,190 M935,135 L955,102 L1024,76"/>
<!-- saddles -->
<path class="h" d="M510,510 Q520,640 630,685 Q680,680 700,620 M530,495 Q550,610 640,660 M590,470 Q600,570 670,610"/>
<path class="h" d="M740,380 Q750,500 860,550 Q910,545 930,490 M760,365 Q780,480 870,525 M820,340 Q830,440 900,480"/>
<path class="h" d="M970,250 Q980,340 1024,380"/>
<path class="h" d="M470,740 L490,705 L530,700 L620,745 L700,790 M700,620 L720,585 L760,578 L800,640 L790,680 L770,700 L770,760 L710,790 M930,490 L950,455 L1000,448 L1024,480 M790,680 L1024,560 M480,640 L480,700 M710,505 L710,600 M940,375 L940,460"/>
<path class="h" d="M480,640 L682,759 L770,705 M380,600 L470,650 L670,772 M710,505 L910,627 L1000,572 M610,465 L900,642 M940,375 L1024,420 M840,335 L1024,435 M682,759 L682,800 M910,627 L910,670"/>
<!-- front faces -->
<ellipse class="h" cx="835" cy="770" rx="18" ry="24" style="stroke-width:2.4"/><ellipse class="h" cx="910" cy="750" rx="18" ry="24"/><ellipse class="l" cx="910" cy="750" rx="8" ry="12"/>
<path class="h" d="M790,820 L800,890 L860,860 L870,790 M800,810 L780,880 M820,800 L810,870 M840,790 L820,860 M890,770 L890,830 L930,850 L1024,800 M940,700 L950,810 M700,910 L790,900 L800,915"/>
<!-- bolt 211B top -->
<path class="l" d="M190,790 L190,850"/>
<path class="w" d="M176,855 L204,855 L204,1024 L176,1024 Z" style="stroke-width:1.5"/>
<path class="h" d="M176,865 L204,865 M176,880 L204,880 M176,895 L204,895 M176,910 L204,910"/>
<path class="h" d="M145,1024 Q150,995 176,992 M204,992 Q232,995 238,1024"/>
</g>
<!-- L4 front end -->
<g transform="translate(430 490) scale(0.166015625)">
<path class="h" d="M110,75 L1024,-440 M110,75 L110,135 L40,170 L40,240 L275,375 L305,365 L305,205 L110,75 M120,102 L200,128 L300,192 M40,170 L110,135"/>
<path class="h" d="M125,125 L125,200 L150,260 L215,300 M275,375 L275,350 M160,150 Q200,140 210,180 M240,235 Q280,225 290,265"/>
<g class="h" style="stroke-width:1.6"><ellipse cx="185" cy="185" rx="12" ry="18"/><ellipse cx="262" cy="262" rx="20" ry="26"/><ellipse cx="237" cy="315" rx="12" ry="18"/><ellipse cx="97" cy="215" rx="10" ry="15"/>
<ellipse cx="360" cy="178" rx="17" ry="11"/><ellipse cx="595" cy="298" rx="17" ry="11"/><ellipse cx="693" cy="345" rx="17" ry="11"/><ellipse cx="778" cy="378" rx="17" ry="11"/><ellipse cx="740" cy="525" rx="8" ry="12"/><ellipse cx="735" cy="600" rx="12" ry="16"/></g>
<path class="h" d="M305,205 L320,190 L400,185 L420,165 M320,190 L320,380 L350,400 L370,385 L560,480 M330,395 L560,500 M375,410 L540,490"/>
<path class="h" d="M330,240 Q350,400 500,410 Q540,400 555,330 M350,225 Q370,370 500,385 M430,185 Q430,300 520,345 M555,330 L570,300 L620,285 L640,310 L790,385"/>
<path class="h" d="M570,330 L570,530 L790,655 M605,370 L610,540 M790,435 L790,655 M570,330 L790,435 M625,390 L625,500 M700,420 L750,445 L750,560"/>
<ellipse class="h" cx="665" cy="470" rx="30" ry="40"/><path class="h" d="M650,505 Q670,520 690,545"/>
<ellipse class="h" cx="635" cy="545" rx="14" ry="18" style="stroke-width:2.8"/>
<path class="h" d="M790,435 L1024,310 M800,450 L800,640 L1024,520 M790,655 L1024,535"/>
<ellipse class="h" cx="822" cy="495" rx="20" ry="26" style="stroke-width:2.6"/><ellipse class="l" cx="822" cy="495" rx="8" ry="12"/>
<ellipse class="h" cx="870" cy="432" rx="18" ry="24" style="stroke-width:2.6"/><ellipse class="l" cx="870" cy="432" rx="8" ry="11"/>
<path class="h" d="M900,480 L930,510 L1024,470 M930,440 L920,500 M950,420 L940,490 M975,410 L965,480 M815,540 L900,520 L920,535"/>
</g>
<!-- L2 -->
<g transform="translate(600 390) scale(0.1953125)" clip-path="url(#cL2)">
<path class="d" d="M213,0 L213,260" style="stroke-dasharray:22 4 4 4"/>
<path class="h" d="M0,130 L195,30 L215,18 L395,130 L400,170 M395,135 Q420,260 500,290 L500,260 L570,230 L610,250 L612,275 L635,270 L640,295 L665,290 L672,320 L715,320 L840,385 L845,400 L845,540"/>
<path class="h" d="M0,770 L470,495 L700,365 M0,800 L470,525 L690,400 M0,940 L690,570 L740,585 L780,590 L820,580 M0,905 L250,775"/>
<path class="h" d="M715,320 L715,360 L690,370 M845,400 L810,410 L715,360 M820,520 L820,580 M700,520 L740,540 L700,550 M770,540 L795,545"/>
<ellipse class="w" cx="842" cy="547" rx="17" ry="30" style="stroke-width:1.6"/>
<path class="h" d="M50,185 L70,140 L150,100 Q175,85 190,95 L300,150 L320,185 L320,290 M50,185 L180,262 L205,255 L255,275 L300,300 M66,185 L84,150 L152,114 Q175,100 188,108 L290,160 M155,130 L155,220 M185,120 L185,235 M230,230 L230,265 M300,190 L300,300"/>
<path class="h" d="M105,300 Q115,420 220,470 Q270,465 290,410 M125,285 Q145,400 235,445 M180,270 Q190,360 270,400 M290,410 L310,375 L350,370 L385,440 L380,480 L270,545"/>
<path class="h" d="M320,190 Q340,300 440,340 L500,330 L520,300 M345,170 Q365,280 450,315 M400,150 Q410,240 490,280"/>
<path class="h" d="M525,290 L620,340 L620,365 L525,410 M530,300 L530,395 M380,455 L470,495"/>
<path class="h" d="M0,560 Q40,600 80,590 L100,540 L150,560 L150,640 L0,700 M80,590 L80,680 M0,410 L100,470 L260,545 L370,490 L380,455 M0,230 L100,285 L105,300 M0,330 L60,365"/>
<path class="h" d="M0,425 L255,562 M300,300 L496,414 L525,410 M205,270 L490,430 M40,470 L40,520"/>
<g class="l" style="stroke-width:1.4"><ellipse cx="30" cy="155" rx="14" ry="9"/><ellipse cx="185" cy="72" rx="14" ry="9"/><ellipse cx="258" cy="75" rx="14" ry="9"/><ellipse cx="298" cy="100" rx="14" ry="9"/><ellipse cx="348" cy="130" rx="14" ry="9"/><ellipse cx="125" cy="262" rx="14" ry="9"/><ellipse cx="332" cy="378" rx="14" ry="9"/><ellipse cx="375" cy="405" rx="11" ry="7"/><ellipse cx="410" cy="480" rx="14" ry="9"/><ellipse cx="512" cy="435" rx="14" ry="9"/><ellipse cx="560" cy="250" rx="14" ry="9"/><ellipse cx="660" cy="340" rx="14" ry="9"/><ellipse cx="820" cy="392" rx="14" ry="9"/><ellipse cx="100" cy="515" rx="14" ry="9"/><ellipse cx="140" cy="540" rx="11" ry="7"/><ellipse cx="252" cy="570" rx="14" ry="9"/><ellipse cx="180" cy="615" rx="14" ry="9"/><ellipse cx="15" cy="710" rx="14" ry="9"/></g>
<ellipse class="h" cx="690" cy="415" rx="20" ry="26" transform="rotate(25 690 415)" style="stroke-width:2.4"/><ellipse class="l" cx="690" cy="415" rx="9" ry="13" transform="rotate(25 690 415)"/>
<ellipse class="h" cx="610" cy="470" rx="20" ry="26" transform="rotate(25 610 470)" style="stroke-width:2.2"/><ellipse class="l" cx="610" cy="470" rx="9" ry="13" transform="rotate(25 610 470)"/>
<ellipse class="h" cx="485" cy="520" rx="15" ry="22" transform="rotate(25 485 520)" style="stroke-width:2.6"/>
<ellipse class="h" cx="270" cy="670" rx="20" ry="26" transform="rotate(25 270 670)" style="stroke-width:2.2"/><ellipse class="l" cx="270" cy="670" rx="9" ry="13" transform="rotate(25 270 670)"/>
<ellipse class="h" cx="40" cy="800" rx="20" ry="26" transform="rotate(25 40 800)" style="stroke-width:2.2"/><ellipse class="l" cx="40" cy="800" rx="9" ry="13" transform="rotate(25 40 800)"/>
<path class="h" d="M395,640 L415,620 L445,630 L450,660 L430,680 L400,670 Z"/><circle class="h" cx="425" cy="650" r="14"/>
<path class="h" d="M485,545 L485,645 M470,540 L470,640 M300,620 L300,710 M320,700 L380,710 L400,700 M345,680 L380,670 M570,510 L570,550 L610,555 M590,580 L560,575 M500,625 L520,635 L600,590 M170,710 L170,770 M230,700 L230,760 M250,700 L250,770 M120,805 L160,810 L210,780 M120,840 L150,845 M85,760 L85,850 M50,830 L45,900 M720,420 L720,500 M700,430 L735,440 M290,745 L400,690 M500,640 L680,545"/>
<path class="l" d="M250,825 L295,910"/>
</g>
<!-- L3 -->
<g transform="translate(400 560) scale(0.1953125)">
<path class="l" d="M345,0 L345,35 M345,245 L325,345 M660,140 L660,210 M680,290 L770,285 M588,75 L588,340 M588,400 L588,790 M490,775 L385,855 M588,845 L588,895 M545,1005 L445,1080"/>
<path class="w" d="M332,35 L358,35 L358,200 L332,200 Z" style="stroke-width:1.6"/>
<path class="h" d="M332,48 L358,48 M332,62 L358,62 M332,76 L358,76 M332,90 L358,90"/>
<path class="w" d="M297,200 Q300,178 332,180 L332,205 L358,205 L358,180 Q390,178 393,200 Q390,222 370,228 L370,240 Q345,250 320,240 L320,228 Q300,222 297,200 Z" style="stroke-width:1.6"/>
<path class="l" d="M320,228 Q345,238 370,228"/>
<path class="w" d="M646,210 L674,210 L674,400 L646,400 Z" style="stroke-width:1.6"/>
<path class="h" d="M646,222 L674,222 M646,236 L674,236 M646,250 L674,250 M646,264 L674,264"/>
<path class="w" d="M612,400 Q615,378 646,380 L646,405 L674,405 L674,380 Q705,378 708,400 Q705,422 685,428 L685,438 Q660,448 635,438 L635,428 Q615,422 612,400 Z" style="stroke-width:1.6"/>
<path class="l" d="M635,428 Q660,438 685,428"/>
<path class="w" d="M470,705 Q480,695 500,705 L510,740 Q520,760 545,765 L550,740 L570,735 L570,760 Q610,755 635,780 Q640,810 600,825 Q560,830 548,800 Q520,790 495,770 Q470,740 470,705 Z" style="stroke-width:1.6"/>
<circle class="h" cx="590" cy="782" r="12"/><path class="l" d="M550,722 L570,718 L570,735"/>
<path class="w" d="M567,900 L609,900 L609,985 L567,985 Z" style="stroke-width:1.6"/>
<path class="h" d="M567,912 L609,912 M567,926 L609,926 M567,940 L609,940 M567,954 L609,954"/>
<path class="w" d="M546,995 Q548,975 575,975 L575,1000 L601,1000 L601,975 Q628,975 630,995 Q628,1015 612,1020 L612,1032 Q588,1042 564,1032 L564,1020 Q548,1015 546,995 Z" style="stroke-width:1.6"/>
</g>
<path class="k" d="M710.6,598.8 L726.8,608.2 L719,608.2 L719,616 L702.5,616 L702.5,608.2 L694.4,608.2 Z"/>
<circle class="l" cx="711.4" cy="636.7" r="10.7"/>

</g>
<g id="leftmid">
<g transform="translate(170 305) scale(0.244140625)">
<path class="l" d="M512,65 L765,212 L765,495 L850,730 L850,855 L700,770 L708,758 M555,685 L415,605 L415,480 L485,355 L512,380 L512,250"/>
<path class="l" d="M512,65 L535,50 M765,212 L790,200 M850,730 L875,720 L875,840 L850,855"/>
<path class="d" d="M535,50 L790,200 L790,480 L875,720" style="stroke-dasharray:18 4 4 4"/>
<path class="d" d="M512,65 L512,250" style="stroke-dasharray:22 5"/>
<path class="l" d="M485,355 L438,460"/>
<!-- holes (fine) -->
</g>
<g transform="translate(260 340) scale(0.13671875)">
<path class="l" d="M250,590 Q280,550 360,545 Q480,560 590,700 Q690,860 690,1000 Q680,1080 600,1115 M255,820 Q280,900 320,965"/>
<path class="d" d="M250,590 Q225,700 255,820" style="stroke-dasharray:8 4"/>
<ellipse class="l" cx="482" cy="820" rx="150" ry="220" transform="rotate(-22 482 820)"/>
<path class="l" d="M375,625 Q350,720 400,860 Q470,990 610,995"/>
<path class="l" d="M355,232 Q400,195 460,215 Q540,290 570,420 Q560,475 490,490 Q450,475 420,440"/>
<path class="d" d="M355,232 Q335,300 380,400" style="stroke-dasharray:8 4"/>
<ellipse class="l" cx="488" cy="335" rx="70" ry="115" transform="rotate(-22 488 335)"/>
<path class="l" d="M432,240 Q405,320 460,400 Q500,435 545,435"/>
<path class="l" d="M320,440 Q350,428 370,455 Q388,490 375,515 Q350,522 338,500"/>
</g>
<g transform="translate(170 305) scale(0.244140625)">
<path class="d" d="M362,522 L560,410" style="stroke-dasharray:30 6 6 6"/>
<!-- washer 35 -->
<ellipse class="h" cx="318" cy="550" rx="27" ry="39" transform="rotate(-25 318 550)"/>
<ellipse class="l" cx="318" cy="550" rx="17" ry="27" transform="rotate(-25 318 550)"/>
<!-- leaders -->
<path class="l" d="M160,262 L175,322 M125,345 L230,308 L248,352 M125,345 L210,580 M290,478 L305,512 M625,720 L525,882"/>
<rect class="l" x="378" y="882" width="292" height="113"/>
</g>
<g transform="translate(185 410) scale(0.09765625)">
<path class="w" d="M370,400 L470,330 Q520,310 545,360 L548,440 L400,540 Z" style="stroke-width:1.5"/>
<path class="h" d="M430,360 Q470,400 465,490 M455,345 Q495,385 490,475 M480,330 Q520,370 515,460 M505,325 Q540,360 540,445"/>
<ellipse class="w" cx="355" cy="475" rx="45" ry="92" transform="rotate(-25 355 475)" style="stroke-width:1.6"/>
<ellipse class="w" cx="300" cy="505" rx="48" ry="105" transform="rotate(-25 300 505)" style="stroke-width:2"/>
<path class="w" d="M170,510 L198,455 L250,440 L300,470 L320,560 L300,600 L250,620 L200,590 Z" style="stroke-width:2"/>
<path class="h" d="M198,455 L245,480 L270,560 L250,620 M245,480 L300,470 M270,560 L320,560"/>
</g>

</g>
<g id="filter">
<g transform="translate(780 300) scale(0.17366)">
<rect class="l" x="152" y="105" width="418" height="163"/>
<path class="l" d="M360,268 L352,440 M235,1100 L310,1140 M292,640 L292,720 L178,790 L178,945"/>
<path class="l" d="M45,292 L300,440"/>
<path class="h" d="M125,600 L350,452 Q375,438 400,458 L412,490 L470,555 L485,560 L485,650 L415,690 M125,600 L128,640 L175,670 L180,690 L210,700 L250,670 M150,610 L150,640"/>
<path class="d" d="M215,540 L330,470" style="stroke-dasharray:5 3"/>
<path class="h" d="M240,575 Q260,555 290,565 L320,560 L400,600 L430,640 L390,650 L350,640 L340,660 L390,690 L390,740 L430,700 M300,560 L340,535 L420,575 M380,500 L470,560 M240,575 Q230,600 250,620 L275,625 M250,680 L250,730 L290,715 M320,600 L380,620 L385,590 M430,640 L440,680 L470,665 L470,600"/>
<g class="l" style="stroke-width:1.3"><ellipse cx="350" cy="510" rx="6" ry="10"/><ellipse cx="165" cy="610" rx="8" ry="12"/><ellipse cx="212" cy="668" rx="6" ry="9"/><ellipse cx="455" cy="640" rx="8" ry="12"/><circle cx="292" cy="628" r="13"/><circle cx="292" cy="628" r="6"/></g>
<path class="h" d="M265,740 Q300,800 420,790 Q540,770 565,680 Q560,640 490,615 M258,770 L258,930 Q280,1010 400,1030 Q520,1020 568,900 M258,895 Q295,970 400,988 Q510,978 568,865"/>
<path class="d" d="M290,735 Q330,780 420,772 Q520,755 545,690 M568,690 L568,900" style="stroke-dasharray:6 3"/>
<path class="l" d="M275,930 L275,975 M300,955 L300,1000 M335,975 L335,1015 M380,985 L380,1025 M430,985 L430,1027 M480,978 L480,1018 M520,955 L520,1000 M550,915 L550,960"/>
<path class="h" d="M240,575 L235,640 L275,660 M320,560 L315,600 M350,640 L400,660 L430,640 M400,600 L395,650 M412,490 L395,455 M340,535 L345,500 L380,500 M470,555 L440,575 L420,575 M180,690 L178,650 M128,640 L150,610 L345,480" style="stroke-width:1.5"/>
<path class="w" d="M160,960 L195,960 L195,1000 L235,1020 L238,1080 L210,1100 L210,1140 Q180,1170 150,1140 L150,1100 L122,1075 L120,1030 L160,1000 Z" style="stroke-width:2"/>
<path class="h" d="M160,1000 L195,1000 M120,1030 Q180,1060 235,1020 M125,1060 Q180,1090 236,1050 M150,1100 Q180,1115 210,1100 M150,1075 L150,1100 M210,1075 L210,1100 M135,1035 L135,1070 M160,1045 L160,1085 M200,1045 L200,1085 M222,1030 L222,1070" style="stroke-width:1.8"/>
</g>

</g>
<g id="box2">
<g transform="translate(140 620) scale(0.25390625)">
<ellipse class="h" cx="421" cy="309" rx="109" ry="66"/>
<ellipse class="l" cx="421" cy="304" rx="98" ry="55"/>
<path class="l" d="M326,342 L326,530 A96,42 0 0 0 518,530 L518,342"/>
<path class="l" d="M520,488 L612,555"/>
<path class="l" d="M275,120 L243,213"/>
</g>
<g transform="translate(170 760) scale(0.15625)">
<!-- rings -->
<path class="h" d="M470,237 Q345,225 342,155 Q345,70 490,67 Q635,70 638,155 Q635,225 505,237 L505,222 Q600,212 604,150 Q600,92 490,90 Q380,92 378,150 Q382,212 470,222 Z"/>
<path class="l" d="M398,150 Q420,118 490,115 Q560,118 585,150 M408,172 Q430,142 490,140 Q555,142 575,172 M425,192 Q445,166 490,164 Q540,166 560,192 M445,208 Q465,188 490,188 Q520,188 540,208"/>
<path class="h" d="M342,205 Q348,282 470,298 L470,284 Q400,275 375,235 M638,205 Q632,282 505,298 L505,284 Q575,275 606,235"/>
<path class="h" d="M342,268 Q348,345 470,360 L470,346 Q400,337 375,297 M638,268 Q632,345 505,360 L505,346 Q575,337 606,297"/>
<!-- piston -->
<ellipse class="h" cx="478" cy="478" rx="140" ry="83"/>
<path class="h" d="M338,478 L338,672 Q360,712 420,728 Q480,735 520,760 Q545,775 575,745 Q600,725 600,700 L618,680 L618,478"/>
<path class="h" d="M340,520 Q400,590 478,592 Q560,590 616,520 M340,545 Q400,615 478,617 Q560,615 616,545 M340,565 Q400,635 478,637 Q560,635 616,565" style="stroke-width:2.4"/>
<path class="l" d="M340,590 Q400,655 478,658 Q560,655 616,590"/>
<ellipse class="h" cx="502" cy="492" rx="66" ry="38"/>
<ellipse class="l" cx="498" cy="498" rx="48" ry="24"/>
<ellipse class="l" cx="492" cy="503" rx="22" ry="12"/>
<path class="h" d="M350,600 L350,650 Q380,690 445,690 L448,640 M372,615 L372,650 L405,672 L420,660 L420,632 Z"/>
<!-- pin -->
<path class="w" d="M150,752 L262,680 Q290,672 305,698 Q312,712 300,725 L185,798 Q160,808 142,785 Q132,765 150,752 Z" style="stroke-width:1.5"/>
<path class="l" d="M150,752 Q180,760 185,798"/>
<!-- snap ring -->
<path class="h" d="M50,790 Q85,770 100,795 Q95,810 80,810 Q110,815 112,838 Q100,862 75,852 Q68,845 72,838 M60,800 L60,822 Q70,825 80,820" style="stroke-width:2"/>
<!-- asterisks -->
<path class="l" d="M60,498 L60,592 M22,515 L98,575 M98,515 L22,575"/>
<path class="l" d="M872,190 L872,284 M836,208 L908,268 M908,208 L836,268"/>
<path class="l" d="M100,612 L172,722 M100,612 L85,775"/>
<path class="l" d="M808,232 L632,135 M808,232 L638,218 M808,232 L638,280 M808,232 L618,520"/>
<!-- con rod small end -->
<path class="l" d="M430,825 Q440,800 490,785 Q530,800 540,840 Q535,860 490,885 Q445,895 430,825 Z M430,825 Q470,815 490,885" style="stroke-width:1.4"/>
</g>
<g transform="translate(140 780) scale(0.25390625)">
<path class="l" d="M395,465 L392,530 Q375,570 350,600 Q335,640 345,690 M345,690 Q370,700 400,715 Q440,740 470,725 Q478,700 480,660 Q470,620 455,590 L450,440 M425,500 L425,575" style="stroke-width:1.3"/>
<path class="l" d="M365,650 Q362,620 385,612 Q420,615 437,660 Q440,690 425,700 Q385,695 365,650 Z M392,614 Q400,660 432,690"/>
</g>

</g>
<g id="viewa">
<g transform="translate(590 690) scale(0.2734)">
<path class="l" d="M445,160 L445,108 Q448,84 482,78 L512,78 L682,175 Q690,232 745,268 Q765,288 790,266 Q800,255 810,252 L905,305 L912,345 L935,378 L945,405 L975,422 L975,452 L540,690 L470,692"/>
<path class="l" d="M745,268 Q760,262 790,266 M768,280 Q790,278 805,256"/>
<path class="l" d="M495,90 L495,160"/>
<path class="l" d="M445,160 L448,200 Q452,228 465,242 M478,182 L518,184 L975,428"/>
<path class="l" d="M445,160 L52,383 M465,244 L100,458 M140,512 L232,462 Q248,456 262,464 L450,570"/>
<path class="l" d="M298,432 Q298,415 318,400 L350,382 Q385,366 410,378 L618,488 Q640,502 638,528 Q632,548 600,565 Q558,585 525,572 L312,452 Q298,444 298,432 Z"/>
<path class="l" d="M468,335 Q468,322 482,314 L520,292 Q532,288 545,295 L568,306 Q578,308 590,300 Q608,288 622,296 L795,390 Q805,400 792,408 Q778,418 780,428 Q784,440 800,442 L742,474 Q722,486 700,478 L478,356 Q468,348 468,335 Z"/>
<path class="l" d="M648,565 Q645,556 660,548 L695,532 Q708,528 722,536 L740,548 Q745,556 732,562 L690,584 Q676,590 664,582 Z"/>
<path class="l" d="M530,625 Q528,616 545,608 L592,588 Q606,584 622,590 L645,600 Q652,608 640,615 L588,638 Q570,644 555,638 Z"/>
<path class="l" d="M745,512 Q742,500 758,492 L790,478 Q812,472 832,480 M846,494 L806,522 Q780,534 762,526 Q748,522 745,512"/><path class="k" d="M842,484 L852,492 L842,498 Z"/>
<path class="l" d="M852,438 L880,426 Q898,426 908,440 Q912,452 898,460 L878,472 Q868,474 860,468"/>
<path class="l" d="M462,588 Q488,590 486,610 Q484,625 466,628"/>
<path class="l" d="M650,630 Q658,640 668,620 M748,576 Q758,582 764,566"/>
<ellipse class="w" cx="456" cy="378" rx="11" ry="6"/>
<ellipse class="w" cx="836" cy="398" rx="11" ry="6"/>
<path class="l" d="M458,384 L458,745 M836,404 L836,560 M836,585 L836,600 M836,620 L836,768" style="stroke-width:1.3"/>
<path class="l" d="M390,672 L440,645 M378,740 L440,708"/>
<path class="l" d="M682,175 L795,113"/>
</g>
<g transform="translate(600 880) scale(0.2734)">
<path class="k" d="M178,62 L227,130 L205,122 L200,180 L163,165 L165,100 L133,85 Z"/>
<path class="k" d="M68,193 L108,207 L160,177 L190,197 L140,226 L165,247 L78,241 Z"/>
<g class="l" style="stroke-width:1.4">
<path d="M403,88 Q420,70 437,88 L437,125 Q420,140 403,125 Z M403,95 Q420,108 437,95 M403,105 Q420,118 437,105 M403,115 Q420,128 437,115 M403,88 Q420,98 437,88"/>
<path d="M780,105 Q797,87 814,105 L814,142 Q797,157 780,142 Z M780,112 Q797,125 814,112 M780,122 Q797,135 814,122 M780,132 Q797,145 814,132 M780,105 Q797,115 814,105"/>
</g>
<path class="l" d="M425,133 L465,218 M805,150 L853,220"/>
</g>

</g>
<g id="labels">
<!-- view A labels -->
<text transform="translate(572 702) scale(0.74 1)" font-size="20" letter-spacing="5.2">VIEW</text>
<circle class="l" cx="637.7" cy="694.5" r="11"/>
<text x="637.7" y="701.5" font-size="19" text-anchor="middle">A</text>
<text class="n" x="811" y="717" textLength="44" lengthAdjust="spacingAndGlyphs">NSS</text>
<text x="621.5" y="883" font-size="20.5" textLength="61" lengthAdjust="spacingAndGlyphs">UPPER</text>
<text x="573" y="976.5" font-size="20.5" textLength="60" lengthAdjust="spacingAndGlyphs">FRONT</text>
<text class="n" x="712" y="962" textLength="42.5" lengthAdjust="spacingAndGlyphs">406</text>
<text class="n" x="820" y="963" textLength="43.5" lengthAdjust="spacingAndGlyphs">406</text>
<!-- box2 labels -->
<text class="n" x="209" y="641.5">2</text>
<text class="n" x="298.5" y="779">4</text>
<!-- leftmid labels -->
<text class="n" x="192.5" y="365" textLength="25.5" lengthAdjust="spacingAndGlyphs">34</text>
<text class="n" x="222.5" y="416" textLength="27" lengthAdjust="spacingAndGlyphs">35</text>
<text class="n" x="270" y="543" textLength="57" lengthAdjust="spacingAndGlyphs">0−20</text>
<!-- view B labels -->
<text transform="translate(163 41) scale(0.74 1)" font-size="20" letter-spacing="5.2">VIEW</text>
<circle class="l" cx="228.8" cy="33.3" r="10.5"/>
<text x="228.8" y="40.3" font-size="19" text-anchor="middle">B</text>
<text x="328" y="40.3" font-size="20" textLength="59" lengthAdjust="spacingAndGlyphs">FRONT</text>
<text class="n" x="166.5" y="216" textLength="27" lengthAdjust="spacingAndGlyphs">70</text>
<text class="n" x="175" y="288.5" textLength="39" lengthAdjust="spacingAndGlyphs">136</text>
<text class="n" x="261" y="291.5" textLength="43" lengthAdjust="spacingAndGlyphs">NSS</text>
<!-- block labels -->
<text class="n" x="529" y="81" textLength="26.5" lengthAdjust="spacingAndGlyphs">97</text><text class="n" x="561.5" y="81" textLength="27.5" lengthAdjust="spacingAndGlyphs">(B)</text>
<text class="n" x="399" y="166.5" textLength="26.5" lengthAdjust="spacingAndGlyphs">97</text><text class="n" x="431.5" y="166.5" textLength="27" lengthAdjust="spacingAndGlyphs">(A)</text>
<text class="n" x="448.5" y="111" textLength="27.5" lengthAdjust="spacingAndGlyphs">23</text><text class="n" x="482.5" y="111" textLength="27.5" lengthAdjust="spacingAndGlyphs">(B)</text>
<text class="n" x="422" y="197.5" textLength="27" lengthAdjust="spacingAndGlyphs">23</text><text class="n" x="454.5" y="197.5" textLength="27" lengthAdjust="spacingAndGlyphs">(A)</text>
<text class="n" x="718.5" y="64.8">4</text>
<text class="n" x="811.5" y="198">1</text>
<text x="747.4" y="118" font-size="19" text-anchor="middle">B</text>
<text class="n" x="691.5" y="366.5" textLength="43.5" lengthAdjust="spacingAndGlyphs">NSS</text>
<text class="n" x="674" y="401" textLength="40.5" lengthAdjust="spacingAndGlyphs">212</text>
<text class="n" x="422.5" y="379.5" textLength="27" lengthAdjust="spacingAndGlyphs">70</text>
<text class="n" x="439.5" y="449.5" textLength="27" lengthAdjust="spacingAndGlyphs">70</text>
<text class="n" x="815" y="341" textLength="57" lengthAdjust="spacingAndGlyphs">0−50</text>
<text class="n" x="836.5" y="516.3" textLength="25.5" lengthAdjust="spacingAndGlyphs">17</text>
<text class="n" x="642.5" y="589.3" textLength="43.5" lengthAdjust="spacingAndGlyphs">NSS</text>
<text class="n" x="423" y="649.5" textLength="40.5" lengthAdjust="spacingAndGlyphs">211</text><text class="n" x="471" y="649.5" textLength="27" lengthAdjust="spacingAndGlyphs">(B)</text>
<text class="n" x="555" y="623.5" textLength="40.5" lengthAdjust="spacingAndGlyphs">211</text><text class="n" x="602.5" y="623.5" textLength="27.5" lengthAdjust="spacingAndGlyphs">(A)</text>
<text class="n" x="445" y="747.5" textLength="26.5" lengthAdjust="spacingAndGlyphs">56</text>
<text class="n" x="448.5" y="794.5" textLength="39" lengthAdjust="spacingAndGlyphs">132</text>
<text x="711.4" y="643.7" font-size="19" text-anchor="middle">A</text>

</g>
<g id="hilite2">
<rect x="520.3" y="41.7" width="50.8" height="50.8" fill="#f00" fill-opacity="0.467"/>
<rect x="386.3" y="125.3" width="50.4" height="50.3" fill="#f00" fill-opacity="0.467"/>

</g>
</svg>
</body></html>
